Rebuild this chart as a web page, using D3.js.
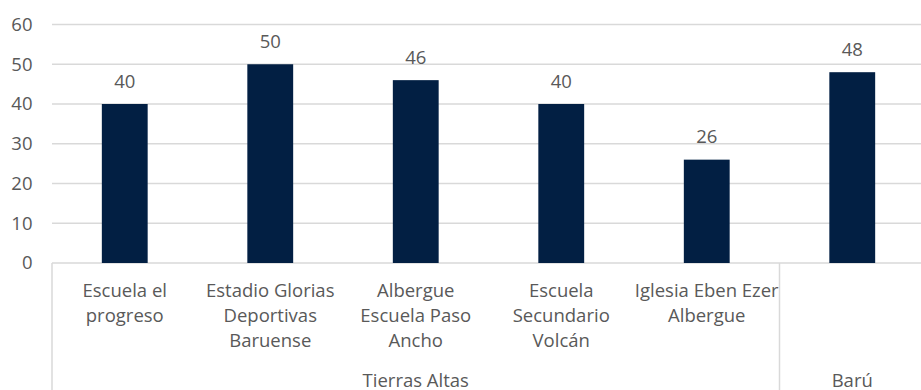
<!DOCTYPE html>
<html>
<head>
<meta charset="utf-8">
<script src="https://cdn.jsdelivr.net/npm/d3@7"></script>
<style>
  html, body { margin: 0; padding: 0; background: #fff; }
  svg text { font-family: "Open Sans", sans-serif; fill: #595959; }
</style>
</head>
<body>
<svg id="chart" width="921" height="390"></svg>
<script>
// Shelter sites, their capacity and the district each belongs to
const categories = [
  "Escuela el progreso",
  "Estadio Glorias Deportivas Baruense",
  "Albergue Escuela Paso Ancho",
  "Escuela Secundario Volcán",
  "Iglesia Eben Ezer Albergue",
  "Barú"
];
const categoryLines = [
  ["Escuela el", "progreso"],
  ["Estadio Glorias", "Deportivas", "Baruense"],
  ["Albergue", "Escuela Paso", "Ancho"],
  ["Escuela", "Secundario", "Volcán"],
  ["Iglesia Eben Ezer", "Albergue"],
  []
];
const values = [40, 50, 46, 40, 26, 48];
const groups = ["Tierras Altas", "Barú"];
const groupOf = [0, 0, 0, 0, 0, 1];
const yTicks = [0, 10, 20, 30, 40, 50, 60];

const FONT = 18.5;
const svg = d3.select("#chart");
const plotLeft = 52, plotRight = 925, plotTop = 24.5, plotBottom = 263;

const x = d3.scaleBand().domain(categories).range([plotLeft, plotRight]).paddingInner(0).paddingOuter(0);
const y = d3.scaleLinear().domain([0, 60]).range([plotBottom, plotTop]);
const barW = x.bandwidth() * 0.315;

// Horizontal gridlines
svg.append("g").selectAll("line").data(yTicks).join("line")
  .attr("x1", plotLeft).attr("x2", 921)
  .attr("y1", d => y(d)).attr("y2", d => y(d))
  .attr("stroke", "#d9d9d9").attr("stroke-width", 1.5);

// Y axis labels
const yAxis = d3.axisLeft(y).tickValues(yTicks).tickSize(0).tickPadding(0);
const gy = svg.append("g").attr("transform", `translate(32.5,0)`).call(yAxis);
gy.select(".domain").remove();
gy.selectAll("text").attr("font-size", FONT).style("font-family", '"Open Sans", sans-serif').attr("fill", "#595959");

// Bars
svg.append("g").selectAll("rect").data(values).join("rect")
  .attr("x", (d, i) => x(categories[i]) + (x.bandwidth() - barW) / 2)
  .attr("y", d => y(d))
  .attr("width", barW)
  .attr("height", d => y(0) - y(d))
  .attr("fill", "#021f43");

// Value labels
svg.append("g").selectAll("text").data(values).join("text")
  .attr("x", (d, i) => x(categories[i]) + x.bandwidth() / 2)
  .attr("y", d => y(d) - 16.5)
  .attr("text-anchor", "middle")
  .attr("font-size", FONT)
  .text(d => d);

// Category labels (first level)
const cat = svg.append("g").selectAll("text").data(categoryLines).join("text")
  .attr("text-anchor", "middle")
  .attr("font-size", FONT);
cat.each(function(lines, i) {
  const t = d3.select(this);
  lines.forEach((ln, k) => {
    t.append("tspan")
      .attr("x", x(categories[i]) + x.bandwidth() / 2)
      .attr("y", 296.7 + k * 25)
      .text(ln);
  });
});

// Group labels (second level)
groups.forEach((g, gi) => {
  const idx = groupOf.map((v, i) => v === gi ? i : -1).filter(i => i >= 0);
  const x0 = x(categories[idx[0]]);
  const x1 = x(categories[idx[idx.length - 1]]) + x.bandwidth();
  svg.append("text")
    .attr("x", (x0 + x1) / 2)
    .attr("y", 386.7)
    .attr("text-anchor", "middle")
    .attr("font-size", FONT)
    .text(g);
});

// Axis divider lines: left edge and between groups
const dividers = [plotLeft];
groupOf.forEach((g, i) => { if (i > 0 && g !== groupOf[i - 1]) dividers.push(x(categories[i])); });
svg.append("g").selectAll("line").data(dividers).join("line")
  .attr("x1", d => d).attr("x2", d => d)
  .attr("y1", plotBottom).attr("y2", 390)
  .attr("stroke", "#d9d9d9").attr("stroke-width", 1.5);
</script>
</body>
</html>
